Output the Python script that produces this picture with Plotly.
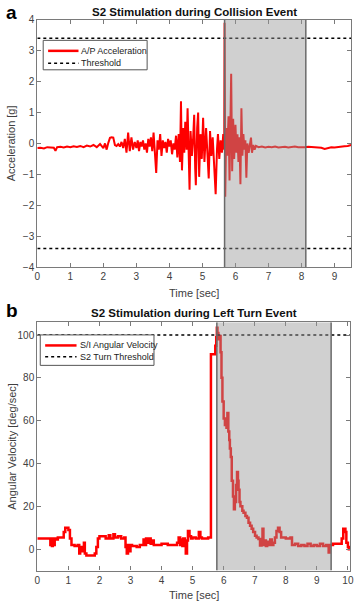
import plotly.graph_objects as go

# ---------------- data: panel a (collision) ----------------
time_a = [0.0,0.1,0.2,0.3,0.4,0.5,0.55,0.6,0.7,0.8,
          0.9,1.0,1.1,1.2,1.3,1.4,1.5,1.6,1.7,1.8,
          1.9,2.0,2.05,2.1,2.15,2.2,2.25,2.3,2.35,2.4,
          2.45,2.5,2.55,2.6,2.65,2.7,2.75,2.8,2.85,2.9,
          2.95,3.0,
          3.04,3.08,3.12,3.16,3.2,3.24,3.28,3.32,3.36,3.4,
          3.44,3.48,3.52,3.56,3.6,3.64,3.68,3.72,3.76,3.8,
          3.84,3.88,3.92,3.96,4.0,4.04,4.08,4.12,4.16,4.2,
          4.24,4.28,4.32,4.35,4.38,4.42,4.45,4.48,4.52,4.55,
          4.58,4.61,4.64,4.68,4.72,4.75,4.78,4.8,4.84,4.87,
          4.9,4.94,4.98,5.02,5.06,5.11,5.15,5.19,5.23,5.27,
          5.31,5.35,5.4,5.44,5.47,5.51,5.55,5.59,5.63,5.66,
          5.67,5.69,5.72,5.75,5.79,5.82,5.85,5.87,5.9,5.93,
          5.96,6.0,6.03,6.06,6.09,6.12,6.15,6.18,6.21,6.24,
          6.27,6.3,6.33,6.36,6.4,6.44,6.47,6.5,6.54,6.58,
          6.62,6.7,6.8,6.9,7.0,7.1,7.2,7.3,7.4,7.5,
          7.6,7.7,7.8,7.9,8.0,8.1,8.2,8.3,8.4,8.5,
          8.6,8.7,8.8,8.9,9.0,9.1,9.2,9.3,9.4,9.5]
accel_ap = [-0.15,-0.14,-0.16,-0.12,-0.13,-0.14,-0.24,-0.12,-0.11,-0.13,
            -0.1,-0.12,-0.09,-0.11,-0.08,-0.12,-0.07,-0.1,-0.05,-0.12,
            -0.02,-0.15,0.0,-0.2,0.02,0.18,0.2,0.19,-0.05,-0.08,
            -0.02,-0.1,0.05,-0.15,0.15,-0.3,0.35,-0.25,0.2,-0.2,
            0.05,-0.15,
            0.1,-0.25,0.05,-0.1,0.1,-0.2,0.0,-0.3,0.15,-0.1,
            0.2,-0.25,0.35,-0.5,-0.95,0.1,-0.2,0.3,-0.4,0.1,
            -0.15,0.05,-0.3,0.15,-0.1,0.1,-0.35,0.0,-0.2,0.25,
            -0.45,0.3,-0.6,1.36,-0.87,0.5,-0.3,0.7,-0.2,1.14,
            -0.6,-1.5,0.4,-0.4,0.2,0.93,-0.8,-1.35,0.5,1.0,
            -1.08,0.3,-0.5,0.83,-0.6,0.5,-0.3,-1.13,0.4,-0.4,
            0.2,-0.6,-1.64,-0.2,0.3,-0.5,0.1,-0.3,0.3,-0.2,
            3.9,-1.72,0.5,-0.4,0.88,-1.2,1.5,2.25,-0.9,0.8,
            -0.5,0.6,-0.3,0.3,-0.6,0.2,-1.32,1.14,-0.4,0.3,
            -0.2,0.1,-1.11,0.0,-0.3,0.05,0.19,-0.3,-0.05,-0.2,
            -0.08,-0.12,-0.1,-0.13,-0.11,-0.12,-0.1,-0.13,-0.12,-0.11,
            -0.13,-0.12,-0.1,-0.12,-0.13,-0.12,-0.11,-0.12,-0.13,-0.15,
            -0.14,-0.18,-0.15,-0.12,-0.13,-0.11,-0.1,-0.09,-0.08,-0.05]
threshold_a = 3.4
event_a = [5.67, 8.13]
legend_a = ["A/P Acceleration", "Threshold"]

# ---------------- data: panel b (left turn) ----------------
time_b = [0.0,0.42,0.44,0.47,0.5,0.53,0.56,0.62,0.66,0.85,
          0.9,1.0,1.05,1.1,1.2,1.3,1.35,1.38,1.45,1.5,
          1.53,1.58,1.75,1.85,1.9,1.95,2.0,2.2,2.3,2.35,
          2.45,2.5,2.6,2.7,2.8,2.84,2.88,2.92,2.95,3.0,
          3.05,3.2,3.3,3.42,3.45,3.5,3.55,3.6,3.65,3.7,
          3.75,4.0,4.2,4.5,4.55,4.6,4.63,4.67,4.7,4.75,
          4.78,4.82,4.85,4.9,4.95,5.0,5.1,5.2,5.25,5.3,
          5.5,5.59,5.73,5.76,5.78,5.8,5.83,5.86,5.9,5.93,
          5.96,6.0,6.04,6.09,6.12,6.15,6.18,6.2,6.23,6.26,
          6.3,6.33,6.36,6.4,6.43,6.46,6.48,6.51,6.54,6.6,
          6.64,6.7,6.75,6.8,6.85,6.9,6.95,7.01,7.06,7.12,
          7.17,7.22,7.25,7.28,7.32,7.36,7.4,7.45,7.5,7.55,
          7.6,7.65,7.7,7.75,7.8,7.85,8.0,8.15,8.2,8.3,
          8.4,8.5,8.6,8.7,8.8,8.9,9.0,9.1,9.2,9.3,
          9.38,9.41,9.52,9.8,9.85,9.92,9.95,10.0,10.03,10.07]
ang_vel_si = [5,2,5,1.5,5,2,5,4.5,5.5,8,
              10,9,5,2,1.5,2,-2,1,-1,3,
              -2,-3,-3,-2,1,5,6,5,6.5,5,
              7,5.5,6,5,5.5,1,-2,2,-1,2,
              1.5,1,2,4.5,2,5,3,5,2.5,4,
              2,2.5,2,3,5.5,2,4.5,1.5,5,2.5,
              -2,4,8.5,6,5,5.5,5,8,5.5,5,
              5.5,91,95,99,103.4,101,98,99.6,92,80,
              69,61,58,56.7,63.6,55,51,47,43,32,
              24.6,18.7,22,30,36,32,27.8,22,20,18,
              17,15.5,14.7,12.4,11,9.5,8,6.3,5.5,4.8,
              1.7,4,9.5,2,4,1.5,3.5,2,4.5,2,
              3,5.5,8.5,10,8,5.5,5,5.5,2,2.5,
              1.5,2,1.5,2.5,1.5,2,1.5,2.5,1.5,2,
              -1.5,2,2.5,5,9.5,8,3,1,0,1.5]
threshold_b = 100
event_b = [5.78, 9.46]
legend_b = ["S/I Angular Velocity", "S2 Turn Threshold"]

W, H = 358, 609
RED = "#ff0000"
AX = "#7a7a7a"
TXT = "#404040"
FONT = "Liberation Sans, Arial, sans-serif"

def px_x(p):
    return p / W

def px_y(p):
    return 1 - p / H

fig = go.Figure()

# panel a
fig.add_trace(go.Scatter(x=time_a, y=accel_ap, mode="lines", name=legend_a[0], showlegend=False,
                         line=dict(color=RED, width=2), xaxis="x", yaxis="y"))
for th in (threshold_a, -threshold_a):
    fig.add_trace(go.Scatter(x=[0, 9.5], y=[th, th], mode="lines", name=legend_a[1], showlegend=False,
                             line=dict(color="black", width=1.5, dash="dot"), xaxis="x", yaxis="y"))

# panel b
fig.add_trace(go.Scatter(x=time_b, y=ang_vel_si, mode="lines", name=legend_b[0], showlegend=False,
                         line=dict(color=RED, width=2.5, shape="hv"), xaxis="x2", yaxis="y2"))
fig.add_trace(go.Scatter(x=[0, 10.07], y=[threshold_b, threshold_b], mode="lines", name=legend_b[1],
                         showlegend=False, line=dict(color="black", width=1.5, dash="dot"),
                         xaxis="x2", yaxis="y2"))

shapes = []
for (xr, yr, ev, yrange) in [("x", "y", event_a, (-4, 4)), ("x2", "y2", event_b, (-10, 106))]:
    shapes.append(dict(type="rect", xref=xr, yref=yr, x0=ev[0], x1=ev[1], y0=yrange[0], y1=yrange[1],
                       fillcolor="rgba(150,150,150,0.45)", line=dict(width=0), layer="above"))
    for xv in ev:
        shapes.append(dict(type="line", xref=xr, yref=yr, x0=xv, x1=xv, y0=yrange[0], y1=yrange[1],
                           line=dict(color="#6a6a6a", width=1.5), layer="above"))

annotations = []

# compact MATLAB-style legend boxes (paper coordinates)
def add_legend(box, rows, names):
    x0, y0, x1, y1 = box
    shapes.append(dict(type="rect", xref="paper", yref="paper", x0=px_x(x0), x1=px_x(x1),
                       y0=px_y(y1), y1=px_y(y0), fillcolor="white",
                       line=dict(color="#555555", width=1), layer="above"))
    styles = [dict(color=RED, width=2.5), dict(color="black", width=1.5, dash="dot")]
    for (ly, lx0, lx1, tx), name, st in zip(rows, names, styles):
        shapes.append(dict(type="line", xref="paper", yref="paper", x0=px_x(lx0), x1=px_x(lx1),
                           y0=px_y(ly), y1=px_y(ly), line=st, layer="above"))
        annotations.append(dict(text=name, x=px_x(tx), y=px_y(ly), xref="paper", yref="paper",
                                showarrow=False, xanchor="left", yanchor="middle",
                                font=dict(size=9, color="#222222", family=FONT)))

add_legend((41, 36, 147, 66), [(46.7, 46, 77, 78), (59.3, 46, 77, 78)], legend_a)
add_legend((38, 336, 154, 367), [(346.7, 43, 75, 76), (358.3, 43, 75, 76)], legend_b)

axis_common = dict(showgrid=False, zeroline=False, showline=True, linecolor=AX, linewidth=1.2,
                   mirror="ticks", ticks="inside", ticklen=4, tickcolor=AX,
                   tickfont=dict(size=10, color=TXT, family=FONT))

annotations += [
    dict(text="<b>S2 Stimulation during Collision Event</b>", x=px_x(195), y=px_y(7),
         xref="paper", yref="paper", showarrow=False, xanchor="center", yanchor="middle",
         font=dict(size=11.5, color="#111111", family=FONT)),
    dict(text="<b>S2 Stimulation during Left Turn Event</b>", x=px_x(195), y=px_y(314),
         xref="paper", yref="paper", showarrow=False, xanchor="center", yanchor="middle",
         font=dict(size=11.5, color="#111111", family=FONT)),
    dict(text="<b>a</b>", x=px_x(1), y=px_y(8), xref="paper", yref="paper", showarrow=False,
         xanchor="left", yanchor="middle", font=dict(size=19, color="black", family=FONT)),
    dict(text="<b>b</b>", x=px_x(1), y=px_y(311), xref="paper", yref="paper", showarrow=False,
         xanchor="left", yanchor="middle", font=dict(size=19, color="black", family=FONT)),
    dict(text="Time [sec]", x=px_x(195), y=px_y(293), xref="paper", yref="paper", showarrow=False,
         xanchor="center", yanchor="middle", font=dict(size=11, color=TXT, family=FONT)),
    dict(text="Time [sec]", x=px_x(195), y=px_y(601), xref="paper", yref="paper", showarrow=False,
         xanchor="center", yanchor="middle", font=dict(size=11, color=TXT, family=FONT)),
    dict(text="Acceleration [g]", x=px_x(9), y=px_y(141), xref="paper", yref="paper",
         showarrow=False, textangle=-90, xanchor="center", yanchor="middle",
         font=dict(size=11, color=TXT, family=FONT)),
    dict(text="Angular Velocity [deg/sec]", x=px_x(9), y=px_y(449), xref="paper", yref="paper",
         showarrow=False, textangle=-90, xanchor="center", yanchor="middle",
         font=dict(size=11, color=TXT, family=FONT)),
]

layout = dict(
    width=W, height=H,
    margin=dict(l=0, r=0, t=0, b=0),
    paper_bgcolor="white", plot_bgcolor="white",
    font=dict(family=FONT, color=TXT),
    showlegend=False,
    xaxis=dict(domain=[px_x(35), px_x(355)], range=[0, 9.5], tickvals=list(range(0, 10)),
               anchor="y", **axis_common),
    yaxis=dict(domain=[px_y(267), px_y(15)], range=[-4, 4], tickvals=list(range(-4, 5)),
               anchor="x", **axis_common),
    xaxis2=dict(domain=[px_x(35), px_x(354)], range=[0, 10.07], tickvals=list(range(0, 11)),
                anchor="y2", **axis_common),
    yaxis2=dict(domain=[px_y(576), px_y(323)], range=[-10, 106], tickvals=[0, 20, 40, 60, 80, 100],
                anchor="x2", **axis_common),
    shapes=shapes,
    annotations=annotations,
)
fig.update_layout(**layout)

fig.write_html("out.html", config={"displayModeBar": False},
               post_script="document.body.style.margin='0';document.body.style.overflow='hidden';")
